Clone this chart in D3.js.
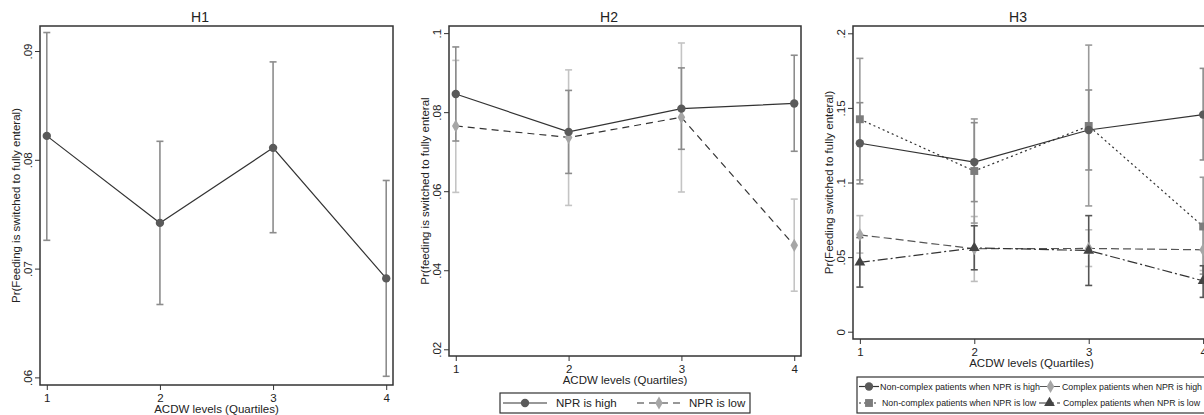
<!DOCTYPE html>
<html>
<head>
<meta charset="utf-8">
<script src="https://cdn.jsdelivr.net/npm/d3@7"></script>
<style>
    body { margin: 0; background: #fff; }
    svg { display: block; font-family: "Liberation Sans", Arial, sans-serif; }
</style>
</head>
<body>
<svg id="chart" width="1204" height="415"></svg>
<script>
var quartiles = [1, 2, 3, 4];

// H1: overall
var h1Est = [0.0822, 0.0742, 0.0811, 0.0691];
var h1Lo = [0.0726, 0.0667, 0.0733, 0.0601];
var h1Hi = [0.0917, 0.0817, 0.0890, 0.0781];

// H2: by NPR
var h2HighEst = [0.0846, 0.0750, 0.0809, 0.0822];
var h2HighLo = [0.0727, 0.0645, 0.0706, 0.0701];
var h2HighHi = [0.0965, 0.0855, 0.0912, 0.0944];
var h2LowEst = [0.0765, 0.0736, 0.0787, 0.0463];
var h2LowLo = [0.0597, 0.0564, 0.0598, 0.0347];
var h2LowHi = [0.0931, 0.0907, 0.0975, 0.0580];

// H3: by complexity and NPR
var h3NcHighEst = [0.1263, 0.1137, 0.1352, 0.1455];
var h3NcHighLo = [0.0991, 0.0872, 0.1084, 0.1151];
var h3NcHighHi = [0.1535, 0.1401, 0.1620, 0.1765];
var h3NcLowEst = [0.1424, 0.1077, 0.1379, 0.0705];
var h3NcLowLo = [0.1017, 0.0728, 0.0843, 0.0386];
var h3NcLowHi = [0.1832, 0.1426, 0.1921, 0.1035];
var h3CHighEst = [0.0649, 0.0556, 0.0558, 0.0549];
var h3CHighLo = [0.0527, 0.0337, 0.0437, 0.0410];
var h3CHighHi = [0.0778, 0.0772, 0.0683, 0.0690];
var h3CLowEst = [0.0464, 0.0562, 0.0544, 0.0341];
var h3CLowLo = [0.0299, 0.0415, 0.0310, 0.0230];
var h3CLowHi = [0.0631, 0.0710, 0.0778, 0.0442];

var h1Ticks = [0.06, 0.07, 0.08, 0.09];
var h2Ticks = [0.02, 0.04, 0.06, 0.08, 0.1];
var h3Ticks = [0, 0.05, 0.1, 0.15, 0.2];

var xLabel = 'ACDW levels (Quartiles)';

function series(est, lo, hi, style) {
    return Object.assign({
        points: quartiles.map((q, i) => ({x: q, y: est[i], lo: lo[i], hi: hi[i]})),
    }, style);
}

var fmt = v => v === 0 ? '0' : d3.format('.2~f')(v).replace(/^0/, '');

var svg = d3.select('#chart');

var panels = [{
    title: 'H1', titleX: 200,
    rect: {left: 40, top: 26, right: 393, bottom: 385},
    yDomain: [0.0593, 0.0923], yTicks: h1Ticks,
    yLabel: 'Pr(Feeding is switched to fully enteral)',
    series: [
        series(h1Est, h1Lo, h1Hi, {marker: 'circle', fill: '#5a5a5a', ci: '#8c8c8c', dash: null}),
    ],
}, {
    title: 'H2', titleX: 609,
    rect: {left: 449, top: 26, right: 801, bottom: 356},
    yDomain: [0.0183, 0.1018], yTicks: h2Ticks,
    yLabel: 'Pr(feeding is switched to fully enteral',
    series: [
        series(h2LowEst, h2LowLo, h2LowHi, {name: 'NPR is low', marker: 'diamond', fill: '#a6a6a6', ci: '#c4c4c4', dash: '7,5'}),
        series(h2HighEst, h2HighLo, h2HighHi, {name: 'NPR is high', marker: 'circle', fill: '#5a5a5a', ci: '#8c8c8c', dash: null}),
    ],
    legend: {box: [500, 393, 750, 413], items: [
        {idx: 1, x0: 503, x1: 547, tx: 556, y: 403},
        {idx: 0, x0: 637, x1: 681, tx: 689, y: 403},
    ], fontSize: 11.5},
}, {
    title: 'H3', titleX: 1018,
    rect: {left: 853, top: 26, right: 1210, bottom: 339},
    yDomain: [-0.0049, 0.2049], yTicks: h3Ticks,
    yLabel: 'Pr(Feeding switched to fully enteral)',
    series: [
        series(h3CHighEst, h3CHighLo, h3CHighHi, {name: 'Complex patients when NPR is high', marker: 'diamond', fill: '#a6a6a6', ci: '#bdbdbd', dash: '8,4', line: '#555'}),
        series(h3NcLowEst, h3NcLowLo, h3NcLowHi, {name: 'Non-complex patients when NPR is low', marker: 'square', fill: '#7c7c7c', ci: '#9a9a9a', dash: '2,3'}),
        series(h3CLowEst, h3CLowLo, h3CLowHi, {name: 'Complex patients when NPR is low', marker: 'triangle', fill: '#444', ci: '#555', dash: '10,3,2,3'}),
        series(h3NcHighEst, h3NcHighLo, h3NcHighHi, {name: 'Non-complex patients when NPR is high', marker: 'circle', fill: '#5a5a5a', ci: '#8c8c8c', dash: null}),
    ],
    legend: {box: [857, 377, 1215, 413], items: [
        {idx: 3, x0: 859, x1: 879, tx: 880, y: 386.5, w: 160},
        {idx: 0, x0: 1040, x1: 1061, tx: 1062, y: 386.5, w: 140},
        {idx: 1, x0: 859, x1: 879, tx: 882, y: 403, w: 154},
        {idx: 2, x0: 1039, x1: 1060, tx: 1063, y: 403, w: 137},
    ], fontSize: 9.4},
}];

var symbols = {
    circle: d3.symbol().type(d3.symbolCircle).size(55),
    diamond: d3.symbol().type(d3.symbolDiamond).size(50),
    square: d3.symbol().type(d3.symbolSquare).size(62),
    triangle: d3.symbol().type(d3.symbolTriangle).size(50),
};

function drawMarker(g, s, x, y) {
    g.append('path')
        .attr('d', symbols[s.marker]())
        .attr('transform', `translate(${x},${y})`)
        .attr('fill', s.fill);
}

panels.forEach(p => {
    var r = p.rect;
    var x = d3.scaleLinear().domain([0.94, 4.06]).range([r.left, r.right]);
    var y = d3.scaleLinear().domain(p.yDomain).range([r.bottom, r.top]);
    var g = svg.append('g');

    g.append('text')
        .attr('x', p.titleX).attr('y', 22)
        .attr('text-anchor', 'middle')
        .attr('font-size', 14).attr('fill', '#222')
        .text(p.title);

    // y axis
    var ya = g.append('g')
        .attr('transform', `translate(${r.left},0)`)
        .call(d3.axisLeft(y).tickValues(p.yTicks).tickSize(5).tickFormat(fmt));
    ya.select('.domain').remove();
    ya.selectAll('line').attr('stroke', '#333');
    ya.selectAll('text')
        .attr('font-size', 11.5).attr('fill', '#222')
        .attr('x', 0).attr('dy', null)
        .attr('text-anchor', 'middle')
        .attr('transform', 'translate(-8,0) rotate(-90)');

    // x axis
    var xa = g.append('g')
        .attr('transform', `translate(0,${r.bottom})`)
        .call(d3.axisBottom(x).tickValues(quartiles).tickSize(5).tickFormat(d3.format('d')));
    xa.select('.domain').remove();
    xa.selectAll('line').attr('stroke', '#333');
    xa.selectAll('text')
        .attr('font-size', 11.5).attr('fill', '#222')
        .attr('y', 17).attr('dy', null);

    g.append('rect')
        .attr('x', r.left).attr('y', r.top)
        .attr('width', r.right - r.left).attr('height', r.bottom - r.top)
        .attr('fill', 'none').attr('stroke', '#333').attr('stroke-width', 1.5);

    g.append('text')
        .attr('transform', `translate(${r.left - 20},${(r.top + r.bottom) / 2}) rotate(-90)`)
        .attr('text-anchor', 'middle')
        .attr('font-size', 11.5).attr('fill', '#222')
        .text(p.yLabel);

    g.append('text')
        .attr('x', (r.left + r.right) / 2).attr('y', r.bottom + 28)
        .attr('text-anchor', 'middle')
        .attr('font-size', 11.5).attr('fill', '#222')
        .text(xLabel);

    var plot = g.append('g');
    var line = d3.line().x(d => x(d.x)).y(d => y(d.y));

    // confidence intervals
    p.series.forEach(s => {
        var ci = plot.append('g').attr('stroke', s.ci).attr('stroke-width', 1.6);
        s.points.forEach(d => {
            ci.append('line').attr('x1', x(d.x)).attr('x2', x(d.x)).attr('y1', y(d.lo)).attr('y2', y(d.hi));
            ci.append('line').attr('x1', x(d.x) - 3.5).attr('x2', x(d.x) + 3.5).attr('y1', y(d.lo)).attr('y2', y(d.lo));
            ci.append('line').attr('x1', x(d.x) - 3.5).attr('x2', x(d.x) + 3.5).attr('y1', y(d.hi)).attr('y2', y(d.hi));
        });
    });
    // lines and markers
    p.series.forEach(s => {
        plot.append('path')
            .attr('d', line(s.points))
            .attr('fill', 'none')
            .attr('stroke', s.line || '#333')
            .attr('stroke-width', 1.2)
            .attr('stroke-dasharray', s.dash);
        s.points.forEach(d => drawMarker(plot, s, x(d.x), y(d.y)));
    });

    if (p.legend) {
        var L = p.legend;
        var lg = g.append('g');
        lg.append('rect')
            .attr('x', L.box[0]).attr('y', L.box[1])
            .attr('width', L.box[2] - L.box[0]).attr('height', L.box[3] - L.box[1])
            .attr('fill', '#fff').attr('stroke', '#333').attr('stroke-width', 1.2);
        L.items.forEach(it => {
            var s = p.series[it.idx];
            lg.append('line')
                .attr('x1', it.x0).attr('x2', it.x1).attr('y1', it.y).attr('y2', it.y)
                .attr('stroke', s.line || '#333').attr('stroke-width', 1.2)
                .attr('stroke-dasharray', s.dash);
            drawMarker(lg, s, (it.x0 + it.x1) / 2, it.y);
            var t = lg.append('text')
                .attr('x', it.tx).attr('y', it.y + L.fontSize * 0.36)
                .attr('font-size', L.fontSize).attr('fill', '#222')
                .text(s.name);
            if (it.w) {
                t.attr('textLength', it.w).attr('lengthAdjust', 'spacingAndGlyphs');
            }
        });
    }
});
</script>
</body>
</html>
